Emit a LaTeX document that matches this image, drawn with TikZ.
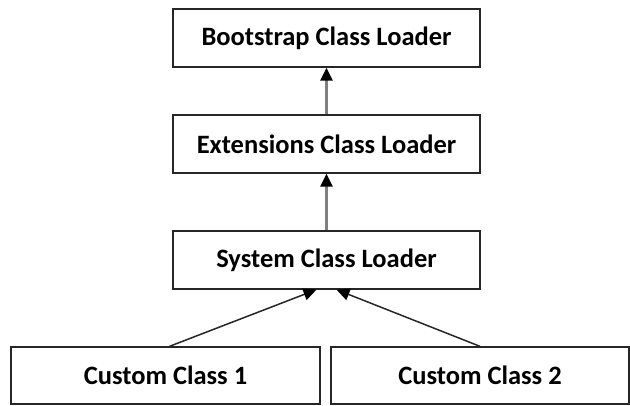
\documentclass[tikz,border=0pt]{standalone}
\usepackage{fontspec}
\setmainfont{Carlito}
\usetikzlibrary{arrows.meta,positioning}

\tikzset{
  loader/.style={draw=black!85, line width=1.3pt, minimum height=58pt,
    inner sep=0pt, font=\fontsize{26.5}{30}\selectfont\bfseries},
  parent/.style={gray, line width=2.6pt, -{Triangle[length=13pt,width=12pt,color=black]}},
  child/.style={black!85, line width=1.5pt, -{Triangle[length=13pt,width=12pt,color=black]}}
}

\begin{document}
\begin{tikzpicture}[x=1pt,y=-1pt]
\useasboundingbox (0,0) rectangle (630,406);
% the loaders
\node[loader, minimum width=307pt] (boot) at (326.5,38) {Bootstrap Class Loader};
\node[loader, minimum width=307pt] (ext) at (326.5,144) {Extensions Class Loader};
\node[loader, minimum width=307pt] (sys) at (326.5,260) {System Class Loader};
\node[loader, minimum width=309pt, minimum height=57pt] (cc1) at (165.5,375.5) {Custom Class 1};
\node[loader, minimum width=298pt, minimum height=57pt] (cc2) at (480,375.5) {Custom Class 2};
% delegation
\draw[parent] (ext) -- (boot);
\draw[parent] (sys) -- (ext);
\draw[child] ([xshift=4pt]cc1.north) -- ([xshift=-10pt]sys.south);
\draw[child] (cc2.north) -- ([xshift=10pt]sys.south);
\end{tikzpicture}
\end{document}
